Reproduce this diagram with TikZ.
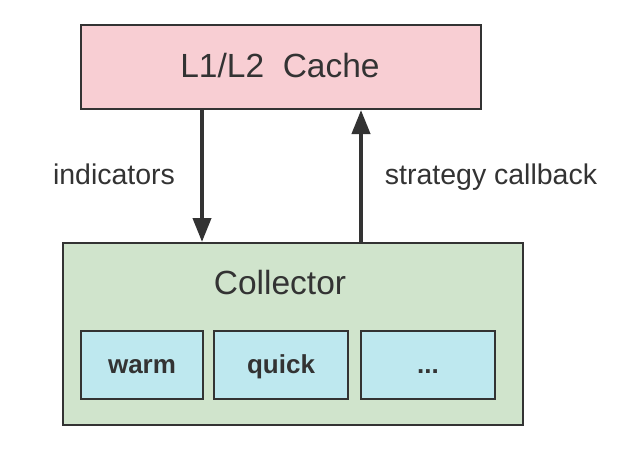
\documentclass[tikz,border=0pt]{standalone}
\usepackage{fontspec}
\setmainfont{Liberation Sans}
\usetikzlibrary{positioning, arrows.meta}
\definecolor{cachepink}{HTML}{F8CED3}
\definecolor{collgreen}{HTML}{D0E4CC}
\definecolor{itemblue}{HTML}{BEE8EF}
\definecolor{inkgray}{HTML}{333333}
\tikzset{
    x=1pt, y=-1pt, % one unit is one pixel of the page, y grows downward
    every node/.style={text=inkgray}, % dark grey text everywhere
    box/.style={draw=inkgray, line width=2pt, inner sep=0pt}, % frame of each block
    item/.style={box, fill=itemblue, minimum height=68pt, text height=16pt, text depth=0pt, font=\bfseries\fontsize{26}{30}\selectfont}, % small boxes inside the collector
    flow/.style={draw=inkgray, line width=4pt, -{Triangle[length=24pt,width=18pt]}}, % thick arrows between the blocks
    label text/.style={anchor=base, font=\fontsize{28.5}{34}\selectfont}, % words next to the arrows
}

\begin{document}
\begin{tikzpicture}
    \useasboundingbox (0,0) rectangle (642,468);
    \node[box, fill=cachepink, minimum width=400pt, minimum height=84pt] (cache) at (281,67) {};
    \node[anchor=base, font=\fontsize{33.5}{40}\selectfont] (cachetitle) at (280,78) {L1/L2\ \ Cache};
    \node[box, fill=collgreen, minimum width=460pt, minimum height=182pt] (collector) at (293,334) {};
    \node[anchor=base, font=\fontsize{33.5}{40}\selectfont] (colltitle) at (280,294) {Collector};
    \node[item, minimum width=122pt] (warm) at (142,365) {warm};
    \node[item, minimum width=134pt, right=9pt of warm] (quick) {quick};
    \node[item, minimum width=134pt, right=11pt of quick] (more) {...};
    \coordinate (down) at (202,0);
    \coordinate (up) at (361,0);
    \draw[flow] (cache.south -| down) -- (collector.north -| down);
    \draw[flow] (collector.north -| up) -- (cache.south -| up);
    \node[label text] (indicators) at (114,184) {indicators};
    \node[label text] (callback) at (491,184) {strategy callback};
\end{tikzpicture}
\end{document}
